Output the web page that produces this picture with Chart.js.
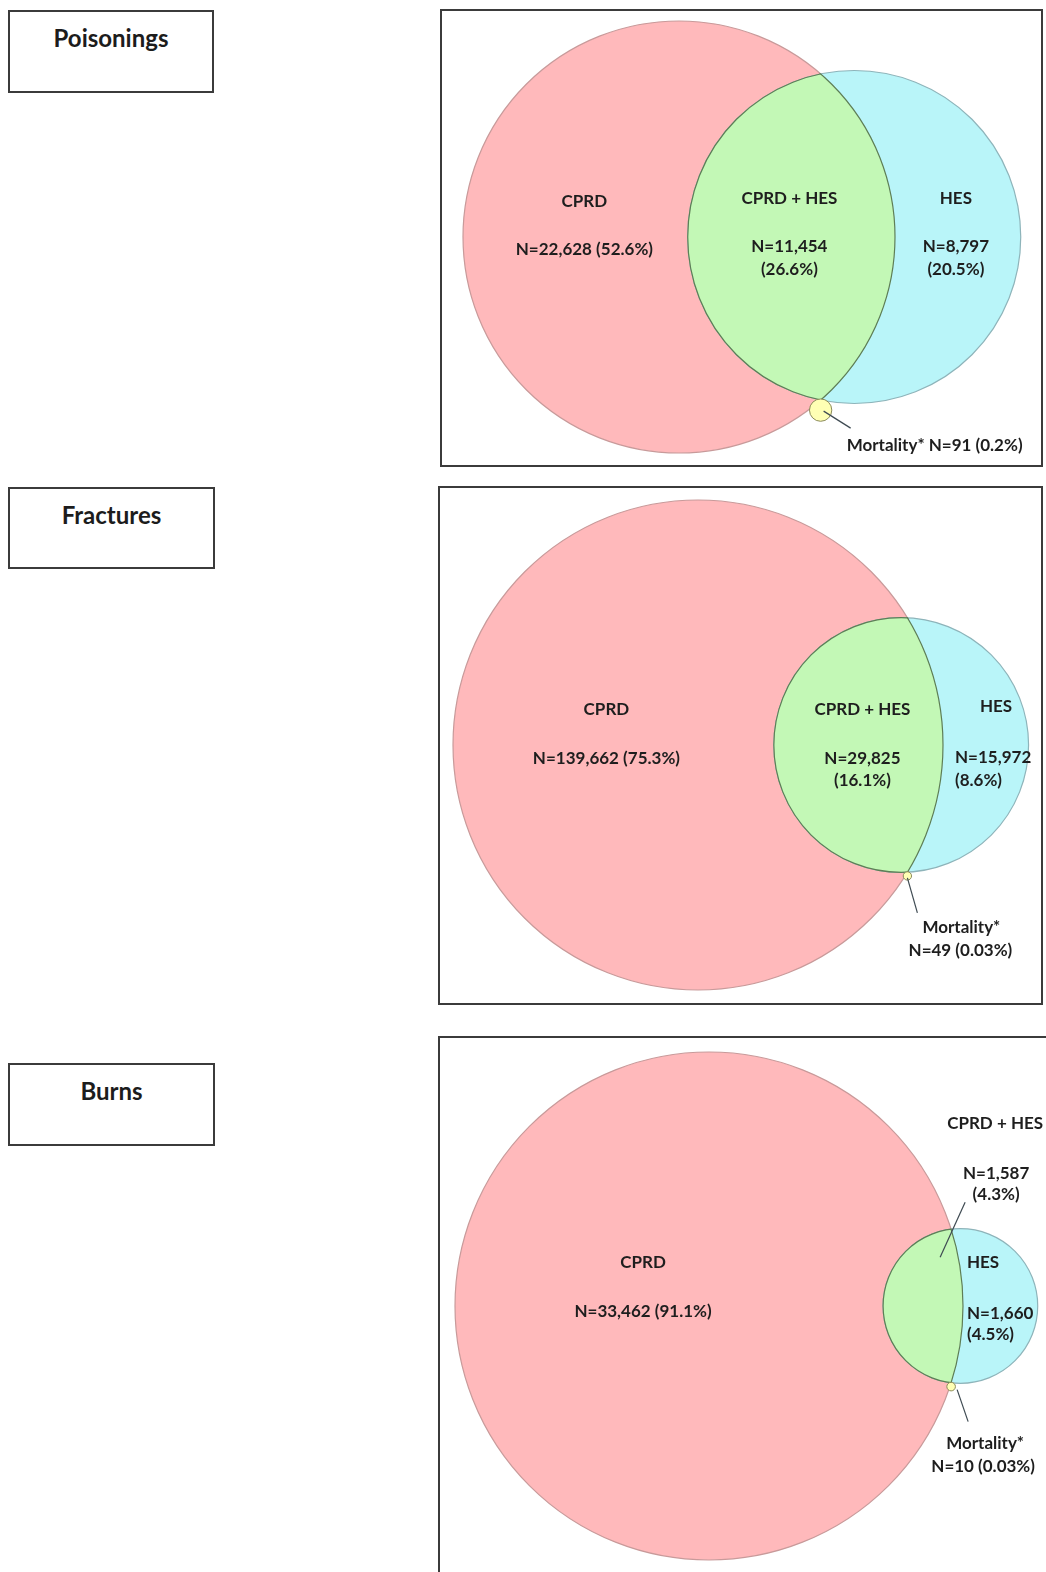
<!DOCTYPE html>
<html>
<head>
<meta charset="utf-8">
<script src="https://cdn.jsdelivr.net/npm/chart.js@4.4.1/dist/chart.umd.min.js"></script>
<style>
  html, body { margin:0; padding:0; background:#ffffff; }
  body { width:1046px; height:1572px; overflow:hidden; position:relative; font-family:Lato, "Open Sans", sans-serif; }
  .title { position:absolute; box-sizing:border-box; border:2px solid #3b3b3b; background:#fff;
           font-weight:bold; font-size:24px; line-height:24px; text-align:center; color:#1c1c1c; padding-top:14px; }
  .panelBorder { position:absolute; box-sizing:border-box; border:2px solid #3b3b3b; pointer-events:none; }
  canvas { position:absolute; }
</style>
</head>
<body>
<script>
// ---------------- DATA ----------------
const categories   = ['Poisonings', 'Fractures', 'Burns'];
const setNames     = ['CPRD', 'CPRD + HES', 'HES', 'Mortality*'];
const cprdOnly     = [22628, 139662, 33462];
const cprdHes      = [11454, 29825, 1587];
const hesOnly      = [8797, 15972, 1660];
const mortality    = [91, 49, 10];
const cprdOnlyPct  = ['52.6%', '75.3%', '91.1%'];
const cprdHesPct   = ['26.6%', '16.1%', '4.3%'];
const hesOnlyPct   = ['20.5%', '8.6%', '4.5%'];
const mortalityPct = ['0.2%', '0.03%', '0.03%'];

// ---------------- LAYOUT / STYLE ----------------
const layout = [
  { title:{l:8, t:10, w:206, h:83}, box:{l:440, t:9, w:603, h:458}, redLeft:463, cy:237, redR:216,
    cprd:{at:'cprdMid', x:[9,9], y:[-35,13]},
    both:{at:'lensMid', x:[-2,-2,-2], y:[-38,10,33]},
    hes:{at:'hesMid', x:[-2,-2,-2], y:[-38,10,33]},
    mort:{at:'mort', oneLine:true, x:[114], y:[35], lead:[3,1,30,18]} },
  { title:{l:8, t:487, w:207, h:82}, box:{l:438, t:486, w:605, h:519}, redLeft:453, cy:745, redR:245,
    cprd:{at:'cprdMid', x:[-7,-7], y:[-35,14]},
    both:{at:'lensMid', x:[4,4,4], y:[-35,14,36]},
    hes:{at:'redRight', x:[53,12,12], y:[-38,13,36], align:['center','left','left']},
    mort:{at:'mort', x:[54,53], y:[52,75], lead:[0,2,10,37]} },
  { title:{l:8, t:1063, w:207, h:83}, box:{l:438, t:1036, w:614, h:560}, redLeft:455, cy:1306, redR:254,
    cprd:{at:'cprdMid', x:[-26,-26], y:[-43,6]},
    both:{at:'top', x:[44,45,45], y:[-106,-56,-35], lead:[14,-27,-11,28]},
    hes:{at:'redRight', x:[4,4,4], y:[-43,8,29], align:'left'},
    mort:{at:'mort', x:[34,32], y:[57,80], lead:[6,3,17,35]} }
];
const COLORS = {
  red:'#FFB9BB', redBorder:'#C89A9A',
  blue:'#B9F5F9', blueBorder:'#8EB4BA',
  green:'#C3F8B6', lensEdge:'#5E7E56',
  mort:'#FFFFB4', mortBorder:'#8A8A5A',
  text:'#1E1E1E', lead:'#3E4A52'
};
const LABEL_FONT = 'bold 17px Lato, "Open Sans", sans-serif';

// ---------------- HELPERS ----------------
function fmt(n){ return String(n).replace(/\B(?=(\d{3})+(?!\d))/g, ','); }
function lensArea(r1, r2, d){
  if (d >= r1 + r2) return 0;
  if (d <= Math.abs(r1 - r2)) return Math.PI * Math.min(r1, r2) ** 2;
  const a1 = Math.acos((d*d + r1*r1 - r2*r2) / (2*d*r1));
  const a2 = Math.acos((d*d + r2*r2 - r1*r1) / (2*d*r2));
  const t = Math.sqrt((-d+r1+r2)*(d+r1-r2)*(d-r1+r2)*(d+r1+r2));
  return r1*r1*a1 + r2*r2*a2 - 0.5*t;
}
function solveDistance(r1, r2, target){
  let lo = Math.abs(r1 - r2), hi = r1 + r2;
  for (let k = 0; k < 100; k++){
    const m = (lo + hi) / 2;
    if (lensArea(r1, r2, m) > target) lo = m; else hi = m;
  }
  return (lo + hi) / 2;
}
function geometry(i){
  const rA = Math.sqrt((cprdOnly[i] + cprdHes[i]) / Math.PI);
  const rB = Math.sqrt((cprdHes[i] + hesOnly[i]) / Math.PI);
  const d = solveDistance(rA, rB, cprdHes[i]);
  const a = (d*d + rA*rA - rB*rB) / (2*d);
  const h = Math.sqrt(rA*rA - a*a);
  const rM = Math.sqrt(mortality[i] / Math.PI);
  return { rA, rB, d, a, h, rM, mx:a, my:-h - 0.9*rM };
}
// bubble radius (pixels) from a radius in data units, via the x scale range
function pxRadius(ctx){
  const ch = ctx.chart, o = ch.options.scales.x;
  return ctx.dataset.rU * ch.width / (o.max - o.min);
}

// ---------------- PLUGIN (lens + labels) ----------------
const vennPlugin = {
  id: 'venn',
  afterDatasetDraw(chart, args){
    if (args.index !== 1) return;
    const g = chart.$g, c = chart.ctx, sx = chart.scales.x, sy = chart.scales.y;
    const R1 = sx.getPixelForValue(g.rA) - sx.getPixelForValue(0);
    const R2 = sx.getPixelForValue(g.d + g.rB) - sx.getPixelForValue(g.d);
    const x1 = sx.getPixelForValue(0), y0 = sy.getPixelForValue(0), x2 = sx.getPixelForValue(g.d);
    const circ = (x, r) => { c.beginPath(); c.arc(x, y0, r, 0, Math.PI*2); };
    c.save(); circ(x1, R1); c.clip(); circ(x2, R2); c.fillStyle = COLORS.green; c.fill(); c.restore();
    c.lineWidth = 1.2; c.strokeStyle = COLORS.lensEdge;
    c.save(); circ(x2, R2 + 0.6); c.clip(); circ(x1, R1); c.stroke(); c.restore();
    c.save(); circ(x1, R1 + 0.6); c.clip(); circ(x2, R2); c.stroke(); c.restore();
  },
  afterDraw(chart){
    const g = chart.$g, L = chart.$L, i = chart.$i, c = chart.ctx;
    const sx = chart.scales.x, sy = chart.scales.y;
    const X = v => sx.getPixelForValue(v), Y = v => sy.getPixelForValue(v);
    const redLeft = X(-g.rA), redRight = X(g.rA), blueLeft = X(g.d - g.rB), blueRight = X(g.d + g.rB);
    const cy = Y(0);
    const anchors = {
      cprdMid: [(redLeft + blueLeft)/2, cy],
      lensMid: [(blueLeft + redRight)/2, cy],
      hesMid:  [(redRight + blueRight)/2, cy],
      redRight:[redRight, cy],
      top:     [X(g.a), Y(g.h)],
      mort:    [X(g.mx), Y(g.my)]
    };
    const N = v => 'N=' + fmt(v);
    const P = p => '(' + p + ')';
    const groups = [
      [L.cprd, [setNames[0], N(cprdOnly[i]) + ' ' + P(cprdOnlyPct[i])]],
      [L.both, [setNames[1], N(cprdHes[i]), P(cprdHesPct[i])]],
      [L.hes,  [setNames[2], N(hesOnly[i]), P(hesOnlyPct[i])]],
      [L.mort, L.mort.oneLine ? [setNames[3] + ' ' + N(mortality[i]) + ' ' + P(mortalityPct[i])]
                              : [setNames[3], N(mortality[i]) + ' ' + P(mortalityPct[i])]]
    ];
    c.save();
    groups.forEach(([spec, lines]) => {
      const [ax, ay] = anchors[spec.at];
      if (spec.lead){
        c.beginPath();
        c.moveTo(ax + spec.lead[0], ay + spec.lead[1]);
        c.lineTo(ax + spec.lead[2], ay + spec.lead[3]);
        c.strokeStyle = COLORS.lead; c.lineWidth = 1.2; c.stroke();
      }
      c.font = LABEL_FONT; c.fillStyle = COLORS.text; c.textBaseline = 'middle';
      lines.forEach((s, k) => {
        const al = Array.isArray(spec.align) ? spec.align[k] : (spec.align || 'center');
        c.textAlign = al;
        c.fillText(s, ax + spec.x[k], ay + spec.y[k]);
      });
    });
    c.restore();
  }
};

// ---------------- BUILD ----------------
function build(){
  layout.forEach((L, i) => {
    const t = document.createElement('div');
    t.className = 'title';
    Object.assign(t.style, {left:L.title.l+'px', top:L.title.t+'px', width:L.title.w+'px', height:L.title.h+'px'});
    t.textContent = categories[i];
    document.body.appendChild(t);

    const cv = document.createElement('canvas');
    cv.width = L.box.w; cv.height = L.box.h;
    Object.assign(cv.style, {left:L.box.l+'px', top:L.box.t+'px', width:L.box.w+'px', height:L.box.h+'px'});
    document.body.appendChild(cv);

    const b = document.createElement('div');
    b.className = 'panelBorder';
    Object.assign(b.style, {left:L.box.l+'px', top:L.box.t+'px', width:L.box.w+'px', height:L.box.h+'px'});
    document.body.appendChild(b);

    const g = geometry(i);
    const ppu = L.redR / g.rA;
    const cxc = L.redLeft + L.redR - L.box.l;
    const cyc = L.cy - L.box.t;

    new Chart(cv, {
      type: 'bubble',
      data: { datasets: [
        { label: setNames[3], data: [{x:g.mx, y:g.my}], rU: g.rM, radius: pxRadius, clip: false,
          backgroundColor: COLORS.mort, borderColor: COLORS.mortBorder, borderWidth: 1 },
        { label: setNames[2], data: [{x:g.d, y:0}], rU: g.rB, radius: pxRadius, clip: false,
          backgroundColor: COLORS.blue, borderColor: COLORS.blueBorder, borderWidth: 1.2 },
        { label: setNames[0], data: [{x:0, y:0}], rU: g.rA, radius: pxRadius, clip: false,
          backgroundColor: COLORS.red, borderColor: COLORS.redBorder, borderWidth: 1.2 }
      ]},
      options: {
        responsive: false, animation: false, events: [],
        devicePixelRatio: 1,
        layout: { padding: 0, autoPadding: false },
        plugins: { legend: { display: false }, tooltip: { enabled: false }, title: { display: false } },
        scales: {
          x: { type: 'linear', display: false, min: -cxc/ppu, max: (L.box.w - cxc)/ppu },
          y: { type: 'linear', display: false, min: -(L.box.h - cyc)/ppu, max: cyc/ppu }
        }
      },
      plugins: [{ id:'setup', beforeInit(ch){ ch.$g = g; ch.$L = L; ch.$i = i; } }, vennPlugin]
    });
  });
}
if (document.fonts && document.fonts.load) {
  document.fonts.load(LABEL_FONT).then(build, build);
} else { build(); }
</script>
</body>
</html>
